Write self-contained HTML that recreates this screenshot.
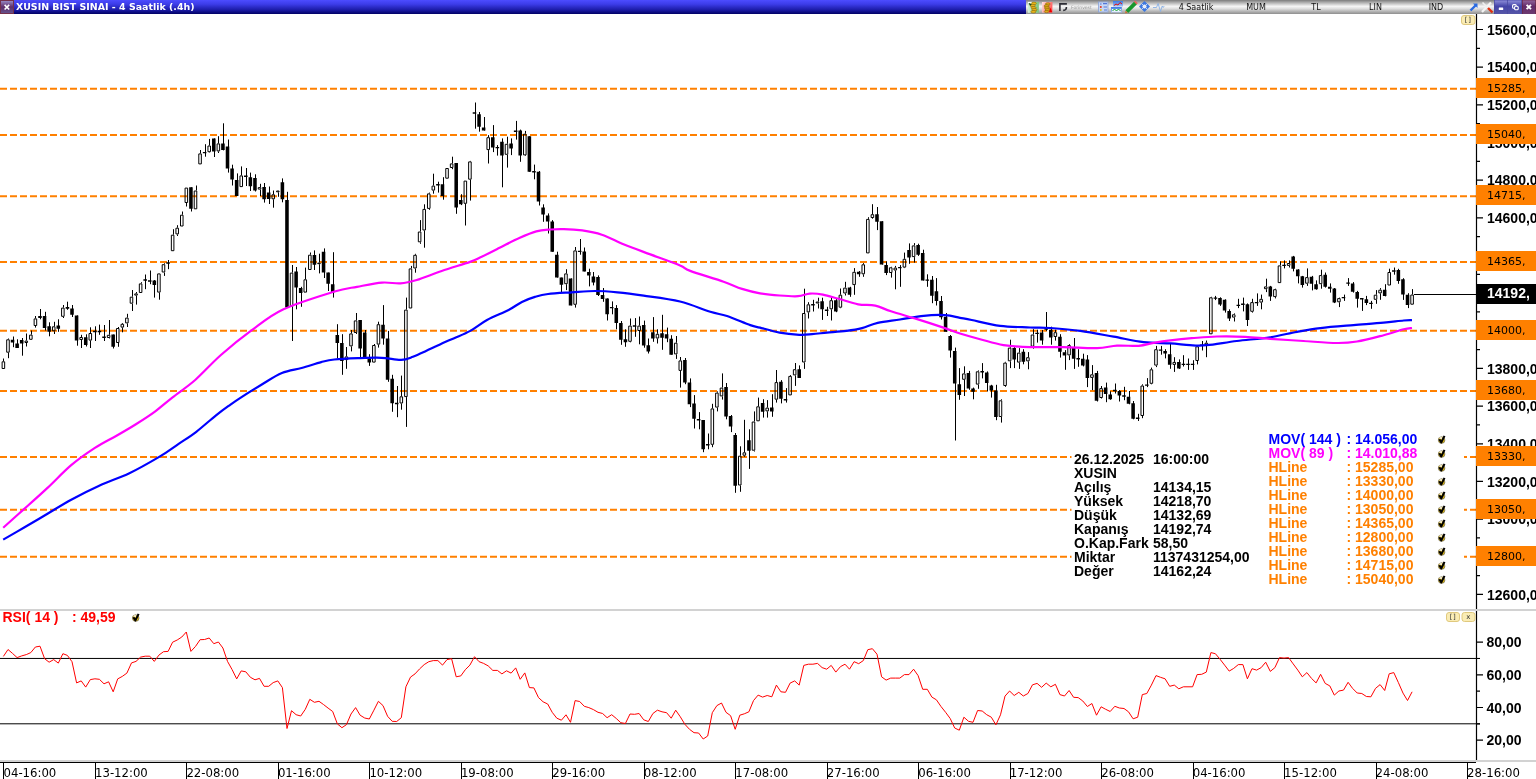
<!DOCTYPE html>
<html><head><meta charset="utf-8"><title>XUSIN BIST SINAI - 4 Saatlik</title>
<style>html,body{margin:0;padding:0;background:#fff;overflow:hidden}svg text{white-space:pre}</style></head>
<body>
<svg width="1536" height="779" viewBox="0 0 1536 779" style="display:block;will-change:transform">
<defs>
<linearGradient id="gb" x1="0" y1="0" x2="0" y2="1"><stop offset="0" stop-color="#4c4cff"/><stop offset="0.3" stop-color="#3c3ce8"/><stop offset="0.7" stop-color="#1c1ca8"/><stop offset="1" stop-color="#000064"/></linearGradient>
<linearGradient id="gg" x1="0" y1="0" x2="0" y2="1"><stop offset="0" stop-color="#7c7c7c"/><stop offset="0.2" stop-color="#b4b4b4"/><stop offset="0.45" stop-color="#f6f6f6"/><stop offset="0.6" stop-color="#e2e2e2"/><stop offset="1" stop-color="#8e8e8e"/></linearGradient>
<linearGradient id="gw" x1="0" y1="0" x2="0" y2="1"><stop offset="0" stop-color="#5a5ab4"/><stop offset="0.08" stop-color="#8484d2"/><stop offset="0.45" stop-color="#4444a8"/><stop offset="1" stop-color="#5656a6"/></linearGradient>
<linearGradient id="gc" x1="0" y1="0" x2="0" y2="1"><stop offset="0" stop-color="#7a3a66"/><stop offset="0.08" stop-color="#8c5c94"/><stop offset="0.45" stop-color="#642a68"/><stop offset="1" stop-color="#6c3a70"/></linearGradient>
<linearGradient id="gc2" x1="0" y1="0" x2="0" y2="1"><stop offset="0" stop-color="#9488c4"/><stop offset="0.25" stop-color="#7a5894"/><stop offset="0.5" stop-color="#5e2e6c"/><stop offset="1" stop-color="#64508a"/></linearGradient>
<linearGradient id="gn" x1="0" y1="0" x2="1" y2="0"><stop offset="0" stop-color="#d8f2d8"/><stop offset="1" stop-color="#78c478"/></linearGradient>
<linearGradient id="gr" x1="0" y1="0" x2="1" y2="0.4"><stop offset="0" stop-color="#ffe4e4"/><stop offset="1" stop-color="#ff5c5c"/></linearGradient>
<linearGradient id="gh" x1="0" y1="0" x2="0" y2="1"><stop offset="0" stop-color="#3c7ae4"/><stop offset="1" stop-color="#a8c4f4"/></linearGradient>
<g id="ck"><circle cx="3.9" cy="5.3" r="3.3" fill="#e4bc10" stroke="#555" stroke-width="0.6"/><ellipse cx="3.2" cy="3.3" rx="1.7" ry="1.1" fill="#fff" opacity="0.8"/><path d="M1.6 4.5L3.6 7.6L6.8 1.1" fill="none" stroke="#000" stroke-width="2.1" stroke-linejoin="round"/></g>
</defs>
<rect width="1536" height="779" fill="#fff"/>
<g stroke="#ff8000" stroke-width="2" stroke-dasharray="7 3" fill="none">
<path d="M0 88.81 H1476"/>
<path d="M0 134.95 H1476"/>
<path d="M0 196.15 H1476"/>
<path d="M0 262.05 H1476"/>
<path d="M0 330.78 H1476"/>
<path d="M0 391.04 H1476"/>
<path d="M0 456.94 H1476"/>
<path d="M0 509.66 H1476"/>
<path d="M0 556.74 H1476"/>
</g>
<rect x="1071.5" y="430" width="392.5" height="160" fill="#fff"/>
<path d="M3.5 358.50V361.30M8.5 338.50V339.30M8.5 352.70V358.20M13.5 336.50V347.20M17.5 339.30V348.00M22.5 338.00V355.70M26.5 333.50V340.60M26.5 343.00V346.50M31.5 330.50V334.60M35.5 316.00V318.40M35.5 326.00V327.60M40.5 309.00V319.30M45.5 311.80V330.50M49.5 322.30V336.30M54.5 321.80V326.30M54.5 331.30V334.00M58.5 319.30V331.80M63.5 305.00V307.60M63.5 316.80V318.00M67.5 301.70V309.80M72.5 305.00V317.00M77.5 315.40V345.70M81.5 334.80V337.00M81.5 340.00V348.00M86.5 334.30V346.50M90.5 327.30V333.00M90.5 340.60V348.00M95.5 326.30V341.00M99.5 324.60V334.80M104.5 325.00V341.00M109.5 320.00V334.80M109.5 338.00V338.50M113.5 334.60V348.50M118.5 327.00V328.00M118.5 343.00V346.80M122.5 323.00V323.80M122.5 327.60V332.30M127.5 313.80V317.60M127.5 323.40V327.00M132.5 290.00V296.70M132.5 303.70V311.00M136.5 292.00V293.40M136.5 295.60V304.60M141.5 282.20V283.40M145.5 274.50V289.20M150.5 270.50V284.20M154.5 280.00V297.60M159.5 292.60V299.70M164.5 263.30V264.20M164.5 272.50V275.90M168.5 260.00V269.20M173.5 229.20V234.70M177.5 225.20V227.70M177.5 234.40V236.00M182.5 211.50V214.70M186.5 203.00V206.50M191.5 187.30V211.50M196.5 185.50V190.50M200.5 150.00V153.40M205.5 144.20V156.70M209.5 138.90V145.50M209.5 152.20V152.60M214.5 138.40V157.00M218.5 136.20V143.40M218.5 151.40V153.00M223.5 123.30V150.40M228.5 139.50V172.60M232.5 164.70V185.50M237.5 173.40V196.00M241.5 166.40V175.40M246.5 168.00V186.00M250.5 172.60V191.00M255.5 174.30V191.50M260.5 183.80V187.10M260.5 189.60V196.00M264.5 183.00V202.60M269.5 186.50V204.00M273.5 190.50V194.30M273.5 199.30V207.70M278.5 192.30V196.80M282.5 178.40V202.30M287.5 191.80V307.60M292.5 265.00V272.60M292.5 306.80V341.00M296.5 267.00V309.30M301.5 286.80V306.80M305.5 267.60V279.30M310.5 252.50V254.70M314.5 250.40V270.00M319.5 253.70V262.60M319.5 264.20V273.40M324.5 248.40V278.00M328.5 272.60V291.00M333.5 252.20V297.60M337.5 324.20V358.40M342.5 334.20V374.80M346.5 347.00V356.40M346.5 360.10V368.80M351.5 330.00V333.40M351.5 346.40V351.40M356.5 313.00V320.40M356.5 333.00V334.00M360.5 320.00V358.40M365.5 330.00V358.90M369.5 354.20V365.90M374.5 344.00V345.00M378.5 321.70V324.20M378.5 344.60V347.60M383.5 305.10V344.70M388.5 330.90V381.80M392.5 374.80V411.80M397.5 386.00V417.20M401.5 375.60V396.30M401.5 403.50V409.70M406.5 297.60V309.60M406.5 397.10V426.90M411.5 265.90V268.40M415.5 253.80V254.80M415.5 268.50V272.70M420.5 220.10V231.50M420.5 242.30V243.80M424.5 204.30V208.90M424.5 230.50V247.70M429.5 192.60V193.40M429.5 208.90V209.80M433.5 173.70V185.60M433.5 190.60V193.70M438.5 181.70V192.60M443.5 177.20V199.70M452.5 156.70V163.40M452.5 168.00V169.20M456.5 163.00V213.80M461.5 194.20V205.10M465.5 203.80V225.50M470.5 160.90V161.40M470.5 179.70V200.60M475.5 102.50V128.70M479.5 112.00V131.70M484.5 117.00V130.60M488.5 135.10V137.20M488.5 150.10V163.50M493.5 125.10V152.10M497.5 145.10V155.60M502.5 138.40V187.30M507.5 136.70V143.80M507.5 154.80V167.60M511.5 138.40V155.10M516.5 120.90V139.60M520.5 129.60V161.80M525.5 130.90V133.70M525.5 155.40V156.00M529.5 136.20V171.80M534.5 164.60V179.30M539.5 171.00V205.50M543.5 204.30V221.80M548.5 213.40V233.50M552.5 220.10V251.80M557.5 251.70V277.60M561.5 277.60V292.60M566.5 269.20V273.40M566.5 284.20V290.10M571.5 278.40V305.40M575.5 247.00V250.40M575.5 304.80V307.60M580.5 239.00V254.70M584.5 247.50V271.40M589.5 268.70V286.40M593.5 272.00V285.40M598.5 275.40V296.00M603.5 288.00V301.80M607.5 298.40V320.50M612.5 301.40V314.30M616.5 305.10V329.30M621.5 321.00V344.80M625.5 329.30V346.80M630.5 318.50V325.60M630.5 341.80V342.30M635.5 318.10V336.80M639.5 316.50V325.60M639.5 331.00V344.30M644.5 320.60V347.70M648.5 338.50V353.50M653.5 317.10V341.80M657.5 329.30V333.80M657.5 338.50V343.50M662.5 314.80V349.80M667.5 327.60V342.20M671.5 335.20V354.70M676.5 336.00V342.70M676.5 354.40V358.90M680.5 357.00V360.40M680.5 370.90V387.60M685.5 358.00V384.20M690.5 378.40V407.10M694.5 395.10V428.50M699.5 412.10V429.30M703.5 420.10V452.20M708.5 433.50V449.30M712.5 403.80V408.40M712.5 444.80V447.20M717.5 391.40V392.60M717.5 407.60V411.40M722.5 373.40V387.60M722.5 396.40V399.60M726.5 383.00V419.30M731.5 415.00V432.10M735.5 433.00V492.80M740.5 446.30V455.70M740.5 485.50V491.80M744.5 419.80V452.30M744.5 455.70V456.80M749.5 429.30V468.90M754.5 411.40V421.50M754.5 450.70V451.50M758.5 397.60V406.30M763.5 399.20V417.60M767.5 400.10V407.60M767.5 411.40V417.60M772.5 394.20V416.80M776.5 370.00V382.10M776.5 399.70V402.60M781.5 380.10V403.40M786.5 388.10V402.60M790.5 375.00V375.90M795.5 363.00V369.20M795.5 375.40V385.90M799.5 365.40V378.00M804.5 288.70V313.00M804.5 362.50V368.90M808.5 302.20V304.30M808.5 312.40V318.50M813.5 299.80V311.50M818.5 297.70V301.50M818.5 303.50V308.50M822.5 297.70V319.90M827.5 306.80V316.00M831.5 296.80V300.20M831.5 309.30V320.50M836.5 298.50V312.20M840.5 288.50V294.70M840.5 307.70V308.20M845.5 281.80V287.60M845.5 293.50V295.50M850.5 286.80V296.80M854.5 268.10V271.80M854.5 285.10V294.80M859.5 271.00V276.80M863.5 263.10V264.30M863.5 274.30V276.80M868.5 217.20V218.90M872.5 204.20V214.20M872.5 218.00V218.70M877.5 207.00V230.10M882.5 221.20V264.60M886.5 261.40V275.10M891.5 266.80V267.30M891.5 273.00V277.60M895.5 265.90V267.60M895.5 270.50V289.30M900.5 265.10V286.80M904.5 252.60V258.80M904.5 267.60V268.10M909.5 243.40V263.80M914.5 243.10V245.40M914.5 257.10V262.60M918.5 243.70V255.90M923.5 249.70V280.50M927.5 274.30V286.80M932.5 276.00V303.20M936.5 278.10V305.50M941.5 296.00V319.50M946.5 313.00V331.70M950.5 335.00V357.60M955.5 347.60V440.50M959.5 368.10V399.80M964.5 366.30V373.40M964.5 379.80V396.00M969.5 370.90V389.80M973.5 387.60V399.30M978.5 370.40V371.30M978.5 384.60V388.80M982.5 363.10V378.40M987.5 371.40V391.50M991.5 384.80V397.60M996.5 384.80V420.20M1001.5 399.30V400.30M1001.5 417.00V422.60M1005.5 361.80V362.60M1005.5 386.00V386.80M1010.5 339.70V347.60M1010.5 361.30V368.10M1014.5 347.10V368.10M1019.5 348.10V352.60M1019.5 362.60V368.90M1023.5 349.20V364.30M1028.5 352.10V357.20M1028.5 361.40V369.30M1033.5 329.20V334.50M1033.5 346.70V348.70M1037.5 329.70V342.60M1042.5 330.00V344.70M1046.5 312.00V330.90M1051.5 326.70V344.70M1055.5 329.70V332.20M1055.5 337.00V340.60M1060.5 334.20V357.60M1065.5 350.10V369.80M1069.5 344.20V345.10M1069.5 355.40V360.10M1074.5 338.00V368.90M1078.5 349.20V366.80M1083.5 353.70V366.40M1087.5 355.10V387.10M1092.5 365.10V374.30M1092.5 377.90V390.10M1097.5 370.90V401.50M1101.5 386.00V388.10M1101.5 398.00V398.50M1106.5 382.60V402.20M1110.5 391.30V399.80M1115.5 383.50V393.50M1119.5 390.10V401.50M1124.5 386.80V400.20M1129.5 391.00V404.30M1133.5 401.00V419.30M1138.5 413.80V421.00M1142.5 384.30V385.50M1142.5 416.00V418.20M1147.5 378.10V387.10M1151.5 367.60V369.30M1151.5 383.80V384.30M1156.5 345.90V349.20M1156.5 365.60V367.10M1161.5 345.90V354.70M1165.5 349.20V358.40M1170.5 343.10V368.80M1174.5 357.20V361.90M1174.5 364.90V371.90M1179.5 359.40V368.90M1183.5 355.20V366.50M1188.5 358.50V369.90M1193.5 360.20V369.90M1197.5 345.20V346.30M1197.5 361.00V364.40M1202.5 341.00V350.50M1206.5 340.50V342.70M1206.5 345.20V357.20M1211.5 296.80V297.30M1215.5 295.90V300.10M1220.5 297.30V305.90M1225.5 299.30V312.60M1229.5 309.30V321.00M1234.5 313.40V314.30M1234.5 317.60V321.50M1238.5 298.80V308.10M1243.5 297.60V311.40M1247.5 303.40V326.00M1252.5 298.80V302.10M1252.5 311.80V312.60M1257.5 293.40V305.90M1261.5 294.60V298.80M1261.5 302.60V309.30M1266.5 278.70V286.40M1266.5 289.20V292.10M1270.5 285.90V300.90M1275.5 288.70V289.20M1275.5 297.10V298.40M1280.5 261.40V265.40M1284.5 260.40V268.40M1289.5 260.40V263.00M1289.5 265.90V267.50M1293.5 255.90V271.40M1298.5 269.20V283.40M1302.5 275.90V287.60M1307.5 268.40V277.10M1307.5 283.70V285.90M1312.5 275.90V290.40M1316.5 280.40V289.70M1321.5 269.70V275.10M1321.5 284.20V288.70M1325.5 272.50V287.60M1330.5 283.40V292.60M1334.5 288.00V303.10M1339.5 297.60V298.10M1339.5 302.30V307.10M1344.5 294.60V300.90M1348.5 278.10V285.90M1353.5 282.10V292.60M1357.5 290.90V307.60M1362.5 298.40V310.90M1366.5 295.90V305.10M1371.5 300.90V308.80M1376.5 290.10V294.70M1376.5 299.80V303.80M1380.5 288.10V289.70M1380.5 293.40V299.80M1385.5 284.20V296.40M1389.5 268.70V272.00M1394.5 267.50V274.70M1398.5 268.80V283.80M1403.5 278.20V299.90M1408.5 293.20V308.10M1412.5 289.10V294.50" stroke="#000" stroke-width="1" fill="none"/>
<path d="M10.77 339.80H14.32V342.60H10.77ZM15.35 343.50H18.90V348.00H15.35ZM19.92 340.10H23.47V343.50H19.92ZM38.21 316.00H41.76V318.00H38.21ZM42.79 316.00H46.34V328.00H42.79ZM47.36 326.30H50.91V331.80H47.36ZM56.51 325.50H60.06V328.80H56.51ZM65.66 307.00H69.21V308.80H65.66ZM70.23 308.40H73.78V314.80H70.23ZM74.80 315.40H78.35V340.50H74.80ZM83.95 337.30H87.50V345.00H83.95ZM111.39 334.60H114.94V346.80H111.39ZM152.56 280.40H156.11V285.00H152.56ZM189.15 187.30H192.70V208.80H189.15ZM212.02 138.40H215.57V151.40H212.02ZM221.16 143.40H224.71V150.00H221.16ZM225.74 146.40H229.29V168.40H225.74ZM230.31 168.40H233.86V179.60H230.31ZM234.88 180.10H238.43V196.00H234.88ZM248.60 177.30H252.15V186.30H248.60ZM253.18 178.10H256.73V190.50H253.18ZM262.33 187.10H265.88V199.30H262.33ZM266.90 192.60H270.45V199.00H266.90ZM280.62 182.30H284.17V199.30H280.62ZM285.19 200.10H288.74V307.60H285.19ZM294.34 271.40H297.89V287.60H294.34ZM298.92 288.10H302.47V293.10H298.92ZM312.64 255.00H316.19V264.70H312.64ZM321.78 251.70H325.33V272.60H321.78ZM326.36 272.60H329.91V283.80H326.36ZM330.93 284.30H334.48V292.60H330.93ZM335.51 335.00H339.06V342.90H335.51ZM340.08 342.90H343.63V360.90H340.08ZM358.37 320.00H361.92V348.40H358.37ZM362.95 332.50H366.50V358.90H362.95ZM367.52 358.40H371.07V362.60H367.52ZM381.24 324.70H384.79V338.40H381.24ZM385.82 338.40H389.37V379.80H385.82ZM390.39 378.80H393.94V403.20H390.39ZM440.70 184.20H444.25V195.90H440.70ZM454.42 163.00H457.97V207.60H454.42ZM458.99 200.10H462.54V204.30H458.99ZM477.29 114.20H480.84V126.70H477.29ZM481.86 127.60H485.41V130.60H481.86ZM491.01 137.20H494.56V147.60H491.01ZM500.16 141.80H503.71V155.40H500.16ZM509.31 143.40H512.86V148.40H509.31ZM518.45 130.40H522.00V155.40H518.45ZM527.60 136.20H531.15V171.80H527.60ZM536.75 171.80H540.30V201.50H536.75ZM541.32 207.60H544.87V214.60H541.32ZM545.90 215.40H549.45V221.50H545.90ZM550.47 221.50H554.02V251.80H550.47ZM555.04 254.70H558.59V277.60H555.04ZM559.62 277.60H563.17V284.70H559.62ZM568.76 278.40H572.31V305.40H568.76ZM582.48 251.40H586.03V271.40H582.48ZM587.06 272.00H590.61V275.60H587.06ZM591.63 276.40H595.18V282.60H591.63ZM596.21 277.00H599.76V295.10H596.21ZM600.78 295.10H604.33V298.90H600.78ZM605.35 298.40H608.90V314.30H605.35ZM614.50 308.10H618.05V323.00H614.50ZM619.07 323.00H622.62V339.80H619.07ZM623.65 339.30H627.20V342.30H623.65ZM641.94 325.10H645.49V345.50H641.94ZM646.52 345.20H650.07V351.50H646.52ZM651.09 332.30H654.64V338.50H651.09ZM660.24 333.20H663.79V337.70H660.24ZM664.81 334.30H668.36V338.50H664.81ZM669.39 338.80H672.94V354.70H669.39ZM683.11 360.00H686.66V382.60H683.11ZM687.68 382.60H691.23V404.30H687.68ZM692.25 403.40H695.80V418.80H692.25ZM701.40 420.10H704.95V449.30H701.40ZM724.27 387.10H727.82V416.40H724.27ZM728.84 415.90H732.39V426.50H728.84ZM733.42 435.10H736.97V485.70H733.42ZM747.14 440.20H750.69V450.70H747.14ZM760.86 403.10H764.41V411.80H760.86ZM770.01 407.60H773.56V411.40H770.01ZM779.15 381.70H782.70V398.70H779.15ZM797.45 369.20H801.00V378.00H797.45ZM820.32 301.30H823.87V309.30H820.32ZM834.04 300.20H837.59V311.50H834.04ZM847.76 287.60H851.31V294.80H847.76ZM856.91 271.80H860.46V274.30H856.91ZM875.20 214.20H878.75V221.70H875.20ZM879.78 221.20H883.33V264.60H879.78ZM884.35 265.10H887.90V273.00H884.35ZM907.22 250.10H910.77V257.60H907.22ZM916.36 245.10H919.91V254.80H916.36ZM920.94 253.10H924.49V280.50H920.94ZM930.09 279.80H933.64V295.70H930.09ZM934.66 291.30H938.21V301.00H934.66ZM939.23 301.00H942.78V317.20H939.23ZM943.81 316.80H947.36V331.70H943.81ZM948.38 335.90H951.93V350.60H948.38ZM952.95 350.90H956.50V383.50H952.95ZM957.53 384.30H961.08V395.10H957.53ZM966.68 373.10H970.23V388.50H966.68ZM971.25 388.50H974.80V391.80H971.25ZM984.97 372.60H988.52V383.10H984.97ZM989.54 385.50H993.09V390.60H989.54ZM994.12 390.60H997.67V417.00H994.12ZM1012.41 348.10H1015.96V359.60H1012.41ZM1021.56 351.70H1025.11V361.80H1021.56ZM1039.85 332.50H1043.40V340.40H1039.85ZM1044.43 327.50H1047.98V329.70H1044.43ZM1049.00 329.70H1052.55V337.50H1049.00ZM1058.15 336.70H1061.70V351.70H1058.15ZM1062.72 352.20H1066.27V355.40H1062.72ZM1071.87 347.10H1075.42V358.70H1071.87ZM1081.02 358.70H1084.57V365.60H1081.02ZM1085.59 359.60H1089.14V377.90H1085.59ZM1094.74 372.90H1098.29V400.70H1094.74ZM1103.89 387.60H1107.44V394.00H1103.89ZM1108.46 394.60H1112.01V399.30H1108.46ZM1117.61 391.00H1121.16V395.60H1117.61ZM1126.76 396.80H1130.31V403.80H1126.76ZM1131.33 403.20H1134.88V418.80H1131.33ZM1163.34 350.90H1166.89V353.40H1163.34ZM1167.92 354.20H1171.47V364.80H1167.92ZM1177.07 361.90H1180.62V368.50H1177.07ZM1218.23 298.10H1221.78V304.60H1218.23ZM1222.80 299.80H1226.35V310.40H1222.80ZM1227.38 310.90H1230.93V318.50H1227.38ZM1245.67 304.30H1249.22V320.10H1245.67ZM1268.54 286.40H1272.09V296.40H1268.54ZM1291.41 256.40H1294.96V268.70H1291.41ZM1295.98 269.50H1299.53V276.20H1295.98ZM1300.56 276.20H1304.11V285.10H1300.56ZM1309.70 276.70H1313.25V283.70H1309.70ZM1314.28 284.20H1317.83V289.20H1314.28ZM1323.42 274.70H1326.97V286.70H1323.42ZM1328.00 286.70H1331.55V288.70H1328.00ZM1332.57 288.40H1336.12V302.60H1332.57ZM1350.87 283.40H1354.42V291.70H1350.87ZM1355.44 292.10H1358.99V298.80H1355.44ZM1364.59 299.30H1368.14V302.90H1364.59ZM1382.88 289.70H1386.43V295.90H1382.88ZM1396.60 270.10H1400.15V281.00H1396.60ZM1401.18 279.20H1404.73V294.50H1401.18ZM1405.75 294.80H1409.30V305.00H1405.75Z" fill="#000"/>
<path d="M2.12 361.80H4.67V368.50H2.12ZM6.70 339.80H9.25V352.20H6.70ZM24.99 341.10H27.54V342.50H24.99ZM29.57 335.10H32.12V339.30H29.57ZM34.14 318.90H36.69V325.50H34.14ZM52.44 326.80H54.99V330.80H52.44ZM61.58 308.10H64.13V316.30H61.58ZM79.88 337.50H82.43V339.50H79.88ZM89.03 333.50H91.58V340.10H89.03ZM107.32 335.30H109.87V337.50H107.32ZM116.47 328.50H119.02V342.50H116.47ZM121.04 324.30H123.59V327.10H121.04ZM125.61 318.10H128.16V322.90H125.61ZM130.19 297.20H132.74V303.20H130.19ZM134.76 293.90H137.31V295.10H134.76ZM139.34 283.90H141.89V292.50H139.34ZM157.63 273.90H160.18V292.10H157.63ZM162.20 264.70H164.75V272.00H162.20ZM171.35 235.20H173.90V250.70H171.35ZM175.93 228.20H178.48V233.90H175.93ZM180.50 215.20H183.05V226.00H180.50ZM185.07 188.10H187.62V202.50H185.07ZM194.22 191.00H196.77V208.80H194.22ZM198.79 153.90H201.34V163.90H198.79ZM207.94 146.00H210.49V151.70H207.94ZM217.09 143.90H219.64V150.90H217.09ZM239.96 175.90H242.51V186.60H239.96ZM258.25 187.60H260.80V189.10H258.25ZM271.97 194.80H274.52V198.80H271.97ZM276.55 191.00H279.10V191.80H276.55ZM290.27 273.10H292.82V306.30H290.27ZM303.99 279.80H306.54V292.10H303.99ZM308.56 255.20H311.11V269.50H308.56ZM317.71 263.10H320.26V263.70H317.71ZM345.15 356.90H347.70V359.60H345.15ZM349.73 333.90H352.28V345.90H349.73ZM354.30 320.90H356.85V332.50H354.30ZM372.59 345.50H375.14V362.10H372.59ZM377.17 324.70H379.72V344.10H377.17ZM400.04 396.80H402.59V403.00H400.04ZM404.61 310.10H407.16V396.60H404.61ZM409.18 268.90H411.73V308.00H409.18ZM413.76 255.30H416.31V268.00H413.76ZM418.33 232.00H420.88V241.80H418.33ZM422.91 209.40H425.46V230.00H422.91ZM427.48 193.90H430.03V208.40H427.48ZM432.05 186.10H434.60V190.10H432.05ZM445.77 168.50H448.32V178.20H445.77ZM450.35 163.90H452.90V167.50H450.35ZM464.07 181.10H466.62V203.30H464.07ZM468.64 161.90H471.19V179.20H468.64ZM486.94 137.70H489.49V149.60H486.94ZM505.23 144.30H507.78V154.30H505.23ZM523.53 134.20H526.08V154.90H523.53ZM564.69 273.90H567.24V283.70H564.69ZM573.84 250.90H576.39V304.30H573.84ZM628.72 326.10H631.27V341.30H628.72ZM637.87 326.10H640.42V330.50H637.87ZM656.16 334.30H658.71V338.00H656.16ZM674.46 343.20H677.01V353.90H674.46ZM679.03 360.90H681.58V370.40H679.03ZM711.05 408.90H713.60V444.30H711.05ZM715.62 393.10H718.17V407.10H715.62ZM720.20 388.10H722.75V395.90H720.20ZM738.49 456.20H741.04V485.00H738.49ZM743.06 452.80H745.61V455.20H743.06ZM752.21 422.00H754.76V450.20H752.21ZM756.79 406.80H759.34V420.80H756.79ZM765.93 408.10H768.48V410.90H765.93ZM775.08 382.60H777.63V399.20H775.08ZM788.80 376.40H791.35V394.90H788.80ZM793.38 369.70H795.93V374.90H793.38ZM802.52 313.50H805.07V362.00H802.52ZM807.10 304.80H809.65V311.90H807.10ZM816.24 302.00H818.79V303.00H816.24ZM829.96 300.70H832.51V308.80H829.96ZM839.11 295.20H841.66V307.20H839.11ZM843.69 288.10H846.24V293.00H843.69ZM852.83 272.30H855.38V284.60H852.83ZM861.98 264.80H864.53V273.80H861.98ZM866.55 219.40H869.10V252.90H866.55ZM871.13 214.70H873.68V217.50H871.13ZM889.42 267.80H891.97V272.50H889.42ZM894.00 268.10H896.55V270.00H894.00ZM903.14 259.30H905.69V267.10H903.14ZM912.29 245.90H914.84V256.60H912.29ZM962.60 373.90H965.15V379.30H962.60ZM976.32 371.80H978.87V384.10H976.32ZM999.19 400.80H1001.74V416.50H999.19ZM1003.77 363.10H1006.32V385.50H1003.77ZM1008.34 348.10H1010.89V360.80H1008.34ZM1017.49 353.10H1020.04V362.10H1017.49ZM1026.63 357.70H1029.18V360.90H1026.63ZM1031.21 335.00H1033.76V346.20H1031.21ZM1054.08 332.70H1056.63V336.50H1054.08ZM1067.80 345.60H1070.35V354.90H1067.80ZM1090.67 374.80H1093.22V377.40H1090.67ZM1099.81 388.60H1102.36V397.50H1099.81ZM1140.98 386.00H1143.53V415.50H1140.98ZM1150.12 369.80H1152.67V383.30H1150.12ZM1154.70 349.70H1157.25V365.10H1154.70ZM1172.99 362.40H1175.54V364.40H1172.99ZM1195.86 346.80H1198.41V360.50H1195.86ZM1205.01 343.20H1207.56V344.70H1205.01ZM1209.58 297.80H1212.13V333.80H1209.58ZM1232.45 314.80H1235.00V317.10H1232.45ZM1250.75 302.60H1253.30V311.30H1250.75ZM1259.89 299.30H1262.44V302.10H1259.89ZM1264.47 286.90H1267.02V288.70H1264.47ZM1273.61 289.70H1276.16V296.60H1273.61ZM1278.19 265.90H1280.74V282.60H1278.19ZM1287.33 263.50H1289.88V265.40H1287.33ZM1305.63 277.60H1308.18V283.20H1305.63ZM1319.35 275.60H1321.90V283.70H1319.35ZM1337.65 298.60H1340.20V301.80H1337.65ZM1374.23 295.20H1376.79V299.30H1374.23ZM1378.81 290.20H1381.36V292.90H1378.81ZM1387.96 272.50H1390.51V285.00H1387.96ZM1410.82 295.00H1413.37V304.20H1410.82Z" fill="none" stroke="#000" stroke-width="1"/>
<path d="M93.10 331.50H96.65M97.67 331.50H101.22M102.25 337.30H105.80M143.41 280.00H146.96M147.98 281.00H151.53M166.28 263.00H169.83M202.87 152.60H206.42M244.03 176.30H247.58M394.96 403.50H398.51M436.13 184.70H439.68M472.72 113.00H476.27M495.58 147.60H499.13M513.88 131.20H517.43M532.17 171.80H535.72M577.91 251.40H581.46M609.93 307.60H613.48M632.80 326.00H636.35M696.83 419.80H700.38M705.97 444.80H709.52M783.73 399.70H787.28M811.17 304.80H814.72M824.89 310.20H828.44M898.07 267.60H901.62M925.51 280.10H929.06M980.40 371.80H983.95M1035.28 333.40H1038.83M1076.44 358.70H1079.99M1113.03 390.50H1116.58M1122.18 396.00H1125.73M1135.90 418.20H1139.45M1145.05 385.10H1148.60M1158.77 350.10H1162.32M1181.64 364.40H1185.19M1186.21 364.40H1189.76M1190.79 364.40H1194.34M1199.93 345.20H1203.48M1213.66 298.10H1217.21M1236.52 305.40H1240.07M1241.10 304.30H1244.65M1254.82 302.60H1258.37M1282.26 265.40H1285.81M1341.72 297.60H1345.27M1346.29 283.10H1349.84M1360.01 298.80H1363.56M1369.16 303.40H1372.71M1392.03 271.00H1395.58" stroke="#000" stroke-width="1.4" fill="none"/>
<path d="M3.2 539.6C6.6 537.6 16.3 532.1 23.7 527.8C31.1 523.5 39.6 518.4 47.5 513.7C55.4 509.0 62.6 504.4 71.2 499.7C79.8 495.0 89.5 490.1 99.2 485.7C108.9 481.3 119.3 478.0 129.4 473.2C139.5 468.4 151.3 461.5 159.6 456.6C167.9 451.7 172.9 447.7 179.0 443.6C185.1 439.5 190.2 436.5 196.3 431.8C202.4 427.1 210.3 419.9 215.7 415.6C221.1 411.3 224.5 408.8 228.6 405.9C232.7 403.0 234.6 401.6 240.0 398.1C245.4 394.6 254.0 389.2 261.0 385.0C268.0 380.8 275.1 375.8 281.9 373.0C288.7 370.2 295.1 369.8 301.6 368.0C308.2 366.2 315.8 363.5 321.2 362.1C326.6 360.7 328.2 360.1 334.3 359.5C340.4 358.9 350.0 358.5 357.9 358.2C365.8 357.9 374.2 357.5 381.4 357.8C388.6 358.1 395.9 360.1 401.1 359.9C406.4 359.7 408.8 358.3 412.9 356.8C417.0 355.3 421.5 353.1 426.0 351.0C430.5 348.9 435.4 346.5 440.0 344.4C444.6 342.3 448.6 340.6 453.6 338.4C458.7 336.1 464.7 334.0 470.3 330.9C475.9 327.8 480.6 323.5 487.0 320.0C493.4 316.5 502.8 313.0 508.6 310.0C514.4 307.0 517.5 304.2 521.9 302.0C526.3 299.8 530.6 298.2 535.0 296.9C539.4 295.6 542.0 294.8 548.1 294.0C554.2 293.2 563.8 292.8 571.7 292.3C579.6 291.8 587.7 291.0 595.3 291.0C602.9 291.0 609.4 291.5 617.5 292.3C625.6 293.1 633.3 294.1 643.7 295.6C654.1 297.1 668.9 298.8 680.0 301.5C691.1 304.2 702.5 309.4 710.3 311.8C718.1 314.2 720.3 313.8 727.0 316.0C733.7 318.2 744.8 323.2 750.3 325.1C755.8 327.0 755.1 326.4 760.0 327.6C764.9 328.9 773.1 331.4 779.6 332.6C786.1 333.8 793.9 334.5 799.3 334.8C804.7 335.1 807.4 334.6 812.0 334.2C816.6 333.8 821.2 333.2 826.9 332.6C832.6 332.1 840.5 331.6 846.4 330.9C852.2 330.1 856.8 329.4 862.0 328.1C867.2 326.8 871.4 324.3 877.7 322.9C884.0 321.5 892.3 320.7 900.0 319.5C907.7 318.3 917.1 316.6 923.7 315.8C930.3 315.0 935.0 314.9 939.4 314.9C943.8 314.9 946.5 315.1 949.9 315.6C953.3 316.1 956.4 317.1 960.0 317.8C963.6 318.5 965.0 318.6 971.7 320.0C978.4 321.4 990.4 324.6 1000.1 325.9C1009.9 327.1 1021.9 327.1 1030.2 327.5C1038.5 327.9 1041.9 327.4 1050.2 328.0C1058.5 328.6 1069.7 329.4 1080.3 330.9C1090.9 332.3 1103.0 334.8 1113.6 336.7C1124.2 338.6 1134.2 341.0 1143.7 342.1C1153.2 343.2 1162.7 342.9 1170.4 343.4C1178.1 343.9 1184.0 344.9 1190.0 345.2C1196.0 345.5 1198.9 345.9 1206.7 345.2C1214.5 344.5 1226.2 342.3 1236.8 341.0C1247.4 339.7 1260.2 338.8 1270.2 337.3C1280.2 335.8 1288.6 333.3 1296.9 331.8C1305.2 330.3 1310.8 329.2 1320.3 328.1C1329.8 327.0 1343.0 326.0 1353.6 325.1C1364.2 324.2 1375.3 323.4 1383.7 322.6C1392.1 321.8 1399.0 320.9 1403.7 320.5C1408.4 320.1 1410.6 320.2 1412.0 320.1" stroke="#0000ff" stroke-width="2.2" fill="none" stroke-linejoin="round"/>
<path d="M3.2 527.8C6.6 524.7 16.3 516.0 23.7 509.4C31.1 502.8 39.6 495.3 47.5 487.9C55.4 480.5 63.3 471.9 71.2 465.2C79.1 458.5 87.4 452.8 94.9 447.9C102.5 443.0 109.7 439.6 116.5 435.7C123.3 431.8 129.4 428.3 135.9 424.2C142.4 420.1 149.2 415.8 155.3 411.3C161.4 406.8 165.9 402.5 172.6 397.3C179.2 392.1 187.1 387.1 195.2 380.0C203.2 372.9 211.5 363.3 220.9 355.0C230.3 346.7 241.4 337.8 251.8 330.2C262.2 322.6 269.9 315.7 283.5 309.3C297.1 302.9 321.4 295.6 333.6 291.8C345.9 288.1 348.9 288.3 357.0 286.8C365.1 285.3 374.8 283.2 382.0 282.6C389.2 282.0 394.6 283.8 400.4 283.4C406.2 283.0 409.8 282.1 416.7 280.0C423.6 277.9 432.8 274.0 441.7 271.0C450.6 268.0 463.7 264.1 470.1 261.9C476.5 259.7 475.1 260.0 480.0 257.6C484.9 255.3 493.1 251.1 499.6 247.8C506.2 244.5 513.2 240.7 519.3 238.0C525.4 235.3 531.1 232.8 536.3 231.4C541.5 230.0 546.1 229.9 550.7 229.5C555.3 229.1 558.5 228.9 563.8 229.1C569.0 229.2 575.9 229.5 582.2 230.4C588.5 231.3 594.8 232.3 601.8 234.7C608.8 237.0 616.0 241.2 624.1 244.5C632.2 247.8 641.0 250.9 650.3 254.4C659.6 257.9 673.4 262.8 680.0 265.5C686.6 268.2 682.9 268.2 690.2 270.9C697.5 273.6 715.0 278.7 723.6 281.7C732.2 284.7 735.9 287.0 742.0 288.9C748.1 290.8 753.7 292.2 760.0 293.3C766.3 294.4 773.3 295.0 779.6 295.5C785.9 296.0 793.0 296.5 798.0 296.2C803.0 295.9 805.6 293.9 809.8 293.6C813.9 293.3 818.1 293.7 822.9 294.6C827.7 295.5 832.7 297.2 838.6 298.8C844.5 300.4 852.1 303.2 858.2 304.3C864.3 305.4 869.8 304.4 875.3 305.6C880.8 306.8 884.0 309.1 891.0 311.3C898.0 313.6 908.5 316.4 917.2 319.1C925.9 321.8 936.3 325.2 943.4 327.6C950.5 330.0 953.9 331.6 960.0 333.5C966.1 335.4 972.9 337.3 980.1 339.2C987.4 341.1 995.1 343.8 1003.5 345.1C1011.9 346.4 1020.2 346.8 1030.2 347.1C1040.2 347.4 1052.5 346.9 1063.6 347.1C1074.7 347.3 1088.1 348.4 1097.0 348.1C1105.9 347.9 1110.0 346.0 1117.0 345.6C1124.0 345.2 1132.6 346.3 1138.7 345.9C1144.8 345.4 1148.4 343.8 1153.7 342.9C1159.0 342.0 1164.1 341.2 1170.4 340.4C1176.7 339.6 1184.0 338.8 1191.7 338.2C1199.4 337.6 1207.8 336.7 1216.7 336.5C1225.6 336.3 1236.2 336.4 1245.1 336.8C1254.0 337.2 1260.5 338.1 1270.2 338.8C1280.0 339.5 1292.5 340.3 1303.6 341.0C1314.7 341.7 1328.1 342.9 1337.0 343.0C1345.9 343.1 1349.2 342.8 1357.0 341.5C1364.8 340.2 1375.9 337.2 1383.7 335.2C1391.5 333.2 1399.0 330.5 1403.7 329.3C1408.4 328.1 1410.6 328.2 1412.0 328.0" stroke="#ff00ff" stroke-width="2.2" fill="none" stroke-linejoin="round"/>
<path d="M1414 294.5H1477" stroke="#000" stroke-width="1"/>
<path d="M1476.5 14V760" stroke="#000" stroke-width="1.2"/>
<path d="M1477 594.4h6M1477 575.6h3M1477 556.7h6M1477 537.9h3M1477 519.1h6M1477 500.2h3M1477 481.4h6M1477 462.6h3M1477 443.8h6M1477 424.9h3M1477 406.1h6M1477 387.3h3M1477 368.4h6M1477 349.6h3M1477 330.8h6M1477 311.9h3M1477 293.1h6M1477 274.3h3M1477 255.5h6M1477 236.6h3M1477 217.8h6M1477 199.0h3M1477 180.1h6M1477 161.3h3M1477 142.5h6M1477 123.6h3M1477 104.8h6M1477 86.0h3M1477 67.2h6M1477 48.3h3M1477 29.5h6" stroke="#000" stroke-width="1.2"/>
<g font-family="'Liberation Sans',sans-serif" font-weight="bold" font-size="14px" fill="#000">
<text x="1487" y="599.6">12600,00</text>
<text x="1487" y="561.9">12800,00</text>
<text x="1487" y="524.3">13000,00</text>
<text x="1487" y="486.6">13200,00</text>
<text x="1487" y="449.0">13400,00</text>
<text x="1487" y="411.3">13600,00</text>
<text x="1487" y="373.6">13800,00</text>
<text x="1487" y="336.0">14000,00</text>
<text x="1487" y="298.3">14200,00</text>
<text x="1487" y="260.7">14400,00</text>
<text x="1487" y="223.0">14600,00</text>
<text x="1487" y="185.3">14800,00</text>
<text x="1487" y="147.7">15000,00</text>
<text x="1487" y="110.0">15200,00</text>
<text x="1487" y="72.4">15400,00</text>
<text x="1487" y="34.7">15600,00</text>
</g>
<rect x="1476" y="78.0" width="60" height="20" fill="#ff8000"/>
<rect x="1476" y="124.0" width="60" height="20" fill="#ff8000"/>
<rect x="1476" y="185.0" width="60" height="20" fill="#ff8000"/>
<rect x="1476" y="251.0" width="60" height="20" fill="#ff8000"/>
<rect x="1476" y="320.0" width="60" height="20" fill="#ff8000"/>
<rect x="1476" y="380.0" width="60" height="20" fill="#ff8000"/>
<rect x="1476" y="446.0" width="60" height="20" fill="#ff8000"/>
<rect x="1476" y="499.0" width="60" height="20" fill="#ff8000"/>
<rect x="1476" y="546.0" width="60" height="20" fill="#ff8000"/>
<g font-family="'DejaVu Sans',sans-serif" font-size="11px" fill="#000">
<text x="1487" y="92.0">15285,</text>
<text x="1487" y="138.0">15040,</text>
<text x="1487" y="199.0">14715,</text>
<text x="1487" y="265.0">14365,</text>
<text x="1487" y="334.0">14000,</text>
<text x="1487" y="394.0">13680,</text>
<text x="1487" y="460.0">13330,</text>
<text x="1487" y="513.0">13050,</text>
<text x="1487" y="560.0">12800,</text>
</g>
<rect x="1477" y="284" width="59" height="20" fill="#000"/>
<text x="1487" y="298" font-family="'Liberation Sans',sans-serif" font-weight="bold" font-size="14px" fill="#fff">14192,</text>
<rect x="0" y="609" width="1536" height="2" fill="#d2d2d2"/>
<path d="M0 658.45H1480M0 723.8H1480" stroke="#000" stroke-width="1"/>
<polyline points="3.4,656.4 8.0,649.5 12.5,653.4 17.1,657.6 21.7,655.9 26.3,654.6 30.8,652.6 35.4,647.0 40.0,646.2 44.6,658.7 49.1,662.2 53.7,659.6 58.3,663.1 62.9,653.7 67.4,655.4 72.0,661.7 76.6,682.9 81.2,680.9 85.7,687.1 90.3,679.6 94.9,678.8 99.4,679.3 104.0,683.8 108.6,681.8 113.2,691.8 117.7,678.9 122.3,676.4 126.9,673.1 131.5,662.9 136.0,661.4 140.6,657.1 145.2,656.2 149.8,656.2 154.3,661.4 158.9,655.1 163.5,651.7 168.1,651.4 172.6,642.2 177.2,640.0 181.8,637.0 186.3,632.0 190.9,651.4 195.5,646.4 200.1,639.7 204.6,639.5 209.2,638.0 213.8,643.7 218.4,642.0 222.9,648.0 227.5,661.4 232.1,669.6 236.7,678.9 241.2,670.9 245.8,671.8 250.4,677.3 255.0,679.8 259.5,678.4 264.1,686.3 268.7,686.3 273.2,682.6 277.8,680.9 282.4,687.6 287.0,728.5 291.5,710.7 296.1,714.7 300.7,716.0 305.3,709.3 309.8,699.3 314.4,702.3 319.0,701.3 323.6,704.6 328.1,708.1 332.7,711.5 337.3,723.8 341.9,727.7 346.4,724.7 351.0,714.0 355.6,707.6 360.1,715.2 364.7,718.0 369.3,719.0 373.9,710.2 378.4,701.3 383.0,705.6 387.6,716.3 392.2,721.3 396.7,721.5 401.3,717.7 405.9,686.8 410.5,677.1 415.0,673.9 419.6,668.9 424.2,664.6 428.8,661.7 433.3,660.6 437.9,660.6 442.5,665.1 447.0,659.6 451.6,658.7 456.2,676.8 460.8,675.9 465.3,669.7 469.9,665.1 474.5,656.7 479.1,661.7 483.6,663.4 488.2,665.9 492.8,670.4 497.4,670.4 501.9,673.9 506.5,670.8 511.1,673.1 515.7,667.9 520.2,679.3 524.8,672.9 529.4,687.6 533.9,687.9 538.5,697.6 543.1,701.8 547.7,704.0 552.2,712.3 556.8,718.2 561.4,720.2 566.0,714.8 570.5,722.3 575.1,700.6 579.7,701.5 584.3,706.3 588.8,707.6 593.4,709.6 598.0,712.3 602.6,713.5 607.1,717.7 611.7,714.7 616.3,718.5 620.8,722.7 625.4,723.5 630.0,714.0 634.6,714.3 639.1,713.5 643.7,719.8 648.3,721.5 652.9,713.5 657.4,710.2 662.0,711.8 666.6,712.7 671.2,718.2 675.7,710.2 680.3,716.8 684.9,724.3 689.5,729.3 694.0,732.7 698.6,733.0 703.2,739.0 707.7,736.0 712.3,712.7 716.9,705.6 721.5,703.0 726.0,712.3 730.6,715.7 735.2,729.3 739.8,715.2 744.3,713.8 748.9,711.8 753.5,700.6 758.1,695.1 762.6,697.1 767.2,695.5 771.8,696.8 776.4,685.1 780.9,691.8 785.5,692.3 790.1,683.1 794.7,680.9 799.2,685.1 803.8,665.4 808.4,664.2 812.9,664.2 817.5,663.4 822.1,667.6 826.7,669.2 831.2,665.4 835.8,672.1 840.4,666.7 845.0,664.2 849.5,669.2 854.1,661.7 858.7,663.7 863.3,660.6 867.8,649.7 872.4,648.7 877.0,654.2 881.6,676.8 886.1,680.1 890.7,678.1 895.3,678.1 899.8,678.1 904.4,674.6 909.0,674.6 913.6,669.2 918.1,675.6 922.7,689.3 927.3,689.3 931.9,697.1 936.4,699.8 941.0,706.5 945.6,712.3 950.2,718.5 954.7,728.0 959.3,730.2 963.9,717.2 968.5,721.3 973.0,722.3 977.6,710.5 982.2,711.0 986.7,714.7 991.3,717.2 995.9,724.8 1000.5,714.8 1005.0,696.1 1009.6,691.0 1014.2,695.5 1018.8,692.3 1023.3,696.0 1027.9,693.5 1032.5,684.8 1037.1,683.4 1041.6,687.3 1046.2,683.1 1050.8,686.8 1055.4,684.3 1059.9,694.6 1064.5,696.0 1069.1,690.5 1073.6,697.3 1078.2,697.6 1082.8,701.0 1087.4,706.5 1091.9,703.5 1096.5,715.2 1101.1,706.8 1105.7,709.3 1110.2,711.5 1114.8,706.3 1119.4,708.0 1124.0,708.5 1128.5,711.8 1133.1,718.8 1137.7,717.2 1142.3,694.6 1146.8,693.5 1151.4,685.1 1156.0,675.6 1160.5,677.3 1165.1,678.8 1169.7,686.3 1174.3,685.1 1178.8,688.8 1183.4,686.8 1188.0,686.8 1192.6,686.8 1197.1,674.6 1201.7,674.3 1206.3,672.1 1210.9,652.6 1215.4,653.7 1220.0,659.2 1224.6,665.1 1229.2,671.1 1233.7,668.4 1238.3,664.6 1242.9,664.6 1247.4,678.8 1252.0,668.7 1256.6,670.1 1261.2,667.6 1265.7,662.2 1270.3,671.4 1274.9,667.6 1279.5,657.6 1284.0,658.1 1288.6,657.6 1293.2,663.9 1297.8,670.1 1302.3,676.8 1306.9,672.6 1311.5,678.4 1316.1,682.9 1320.6,674.3 1325.2,683.4 1329.8,685.9 1334.3,695.1 1338.9,691.0 1343.5,690.1 1348.1,682.3 1352.6,688.4 1357.2,693.0 1361.8,693.5 1366.4,696.5 1370.9,696.8 1375.5,688.4 1380.1,684.6 1384.7,690.5 1389.2,673.8 1393.8,672.6 1398.4,682.6 1403.0,693.1 1407.5,700.5 1412.1,691.8" stroke="#ff0000" stroke-width="1" fill="none" stroke-linejoin="round"/>
<path d="M1477 740.2h6M1477 723.9h3M1477 707.5h6M1477 691.2h3M1477 674.9h6M1477 658.5h3M1477 642.2h6" stroke="#000" stroke-width="1.2"/>
<g font-family="'Liberation Sans',sans-serif" font-weight="bold" font-size="14px" fill="#000">
<text x="1486.5" y="647.4">80,00</text>
<text x="1486.5" y="680.1">60,00</text>
<text x="1486.5" y="712.7">40,00</text>
<text x="1486.5" y="745.4">20,00</text>
</g>
<g font-family="'Liberation Sans',sans-serif" font-weight="bold" font-size="14px" fill="#ff0000"><text x="2.5" y="621.6">RSI( 14 )</text><text x="72" y="621.6">: 49,59</text></g>
<use href="#ck" x="131.8" y="612.8"/>
<rect x="0" y="760" width="1536" height="2" fill="#d2d2d2"/>
<path d="M0 762.5H1476" stroke="#000" stroke-width="1"/>
<g font-family="'DejaVu Sans Condensed','DejaVu Sans',sans-serif" font-stretch="condensed" font-size="13px" fill="#000">
<text x="3.5" y="777.3">04-16:00</text>
<text x="95.0" y="777.3">13-12:00</text>
<text x="186.4" y="777.3">22-08:00</text>
<text x="277.9" y="777.3">01-16:00</text>
<text x="369.4" y="777.3">10-12:00</text>
<text x="460.9" y="777.3">19-08:00</text>
<text x="552.3" y="777.3">29-16:00</text>
<text x="643.8" y="777.3">08-12:00</text>
<text x="735.3" y="777.3">17-08:00</text>
<text x="826.8" y="777.3">27-16:00</text>
<text x="918.2" y="777.3">06-16:00</text>
<text x="1009.7" y="777.3">17-12:00</text>
<text x="1101.2" y="777.3">26-08:00</text>
<text x="1192.7" y="777.3">04-16:00</text>
<text x="1284.1" y="777.3">15-12:00</text>
<text x="1375.6" y="777.3">24-08:00</text>
<text x="1467.1" y="777.3">28-16:00</text>
</g>
<path d="M3.5 762V779M95.5 762V779M186.5 762V779M278.5 762V779M369.5 762V779M461.5 762V779M552.5 762V779M644.5 762V779M735.5 762V779M827.5 762V779M918.5 762V779M1010.5 762V779M1101.5 762V779M1193.5 762V779M1284.5 762V779M1376.5 762V779M1467.5 762V779" stroke="#000" stroke-width="1"/>
<g font-family="'Liberation Sans',sans-serif" font-weight="bold" font-size="14px" fill="#000">
<text x="1074" y="463.6">26.12.2025</text>
<text x="1153" y="463.6">16:00:00</text>
<text x="1074" y="477.6">XUSIN</text>
<text x="1074" y="491.6">Açılış</text>
<text x="1153" y="491.6">14134,15</text>
<text x="1074" y="505.6">Yüksek</text>
<text x="1153" y="505.6">14218,70</text>
<text x="1074" y="519.6">Düşük</text>
<text x="1153" y="519.6">14132,69</text>
<text x="1074" y="533.6">Kapanış</text>
<text x="1153" y="533.6">14192,74</text>
<text x="1074" y="547.6">O.Kap.Fark</text>
<text x="1153" y="547.6">58,50</text>
<text x="1074" y="561.6">Miktar</text>
<text x="1153" y="561.6">1137431254,00</text>
<text x="1074" y="575.6">Değer</text>
<text x="1153" y="575.6">14162,24</text>
</g>
<g font-family="'Liberation Sans',sans-serif" font-weight="bold" font-size="14px">
<text x="1268.5" y="443.6" fill="#0000ff">MOV( 144 )</text><text x="1346.5" y="443.6" fill="#0000ff">: 14.056,00</text>
<use href="#ck" x="1437.7" y="434.8"/>
<text x="1268.5" y="457.6" fill="#ff00ff">MOV( 89 )</text><text x="1346.5" y="457.6" fill="#ff00ff">: 14.010,88</text>
<use href="#ck" x="1437.7" y="448.8"/>
<text x="1268.5" y="471.6" fill="#ff8000">HLine</text><text x="1346.5" y="471.6" fill="#ff8000">: 15285,00</text>
<use href="#ck" x="1437.7" y="462.8"/>
<text x="1268.5" y="485.6" fill="#ff8000">HLine</text><text x="1346.5" y="485.6" fill="#ff8000">: 13330,00</text>
<use href="#ck" x="1437.7" y="476.8"/>
<text x="1268.5" y="499.6" fill="#ff8000">HLine</text><text x="1346.5" y="499.6" fill="#ff8000">: 14000,00</text>
<use href="#ck" x="1437.7" y="490.8"/>
<text x="1268.5" y="513.6" fill="#ff8000">HLine</text><text x="1346.5" y="513.6" fill="#ff8000">: 13050,00</text>
<use href="#ck" x="1437.7" y="504.8"/>
<text x="1268.5" y="527.6" fill="#ff8000">HLine</text><text x="1346.5" y="527.6" fill="#ff8000">: 14365,00</text>
<use href="#ck" x="1437.7" y="518.8"/>
<text x="1268.5" y="541.6" fill="#ff8000">HLine</text><text x="1346.5" y="541.6" fill="#ff8000">: 12800,00</text>
<use href="#ck" x="1437.7" y="532.8"/>
<text x="1268.5" y="555.6" fill="#ff8000">HLine</text><text x="1346.5" y="555.6" fill="#ff8000">: 13680,00</text>
<use href="#ck" x="1437.7" y="546.8"/>
<text x="1268.5" y="569.6" fill="#ff8000">HLine</text><text x="1346.5" y="569.6" fill="#ff8000">: 14715,00</text>
<use href="#ck" x="1437.7" y="560.8"/>
<text x="1268.5" y="583.6" fill="#ff8000">HLine</text><text x="1346.5" y="583.6" fill="#ff8000">: 15040,00</text>
<use href="#ck" x="1437.7" y="574.8"/>
</g>
<rect x="1461.5" y="15.5" width="13.5" height="9.0" rx="2.5" fill="#faecb4" stroke="#dcc474" stroke-width="0.9"/>
<text x="1468.2" y="22.3" font-family="'DejaVu Sans',sans-serif" font-size="7px" fill="#333" text-anchor="middle" letter-spacing="0.6">[]</text>
<rect x="1446.5" y="612.5" width="13.0" height="9.0" rx="2.5" fill="#faecb4" stroke="#dcc474" stroke-width="0.9"/>
<text x="1453.0" y="619.3" font-family="'DejaVu Sans',sans-serif" font-size="7px" fill="#333" text-anchor="middle" letter-spacing="0.6">[]</text>
<rect x="1462.0" y="612.5" width="13.0" height="9.0" rx="2.5" fill="#faecb4" stroke="#dcc474" stroke-width="0.9"/>
<text x="1468.5" y="619.3" font-family="'DejaVu Sans',sans-serif" font-size="7px" fill="#333" text-anchor="middle" letter-spacing="0.6">x</text>
<rect x="0" y="0" width="1026" height="14" fill="url(#gb)"/>
<rect x="1026" y="0" width="468" height="14" fill="url(#gg)"/>
<rect x="0" y="0" width="14" height="14" fill="#74304c"/><rect x="1" y="1" width="12" height="12" fill="url(#gc2)"/>
<path d="M4.6 4.9L9.2 9.5M9.2 4.9L4.6 9.5" stroke="#fff" stroke-width="1.6"/>
<text x="15.9" y="10" font-family="'DejaVu Sans',sans-serif" font-weight="bold" font-size="8.6px" fill="#fff" textLength="178.6" lengthAdjust="spacingAndGlyphs">XUSIN BIST SINAI - 4 Saatlik (.4h)</text>
<rect x="1027.8" y="1.9" width="11" height="10.9" fill="url(#gn)"/><g fill="#e8b41c" stroke="#7a5a00" stroke-width="0.5"><ellipse cx="1033.8" cy="3.4" rx="2.6" ry="1.3"/><ellipse cx="1032.6" cy="5.6" rx="2.6" ry="1.3"/><ellipse cx="1033.6" cy="7.8" rx="2.6" ry="1.3"/><ellipse cx="1034.4" cy="9.8" rx="2.6" ry="1.3"/><ellipse cx="1033.4" cy="11.8" rx="2.6" ry="1.3"/></g><path d="M1028 2.6h3.5" stroke="#fff" stroke-width="1"/><path d="M1029 3.5l2.2 1.6" stroke="#1a4a1a" stroke-width="1.4"/>
<rect x="1042" y="2" width="10.4" height="10.6" fill="url(#gr)"/><g fill="#e0a818" stroke="#7a5a00" stroke-width="0.5"><ellipse cx="1047.8" cy="4" rx="2.4" ry="1.3"/><ellipse cx="1046.6" cy="6" rx="2.6" ry="1.3"/><ellipse cx="1047" cy="8" rx="2.6" ry="1.3"/><ellipse cx="1047.6" cy="10" rx="2.6" ry="1.3"/><ellipse cx="1046.6" cy="11.6" rx="2.4" ry="1.1"/></g><path d="M1050.6 7.6l1.6 4.6h-3.2z" fill="#f00000"/>
<path d="M1059.9 10.9V3.9H1066.9M1066.4 7Q1066.6 10.2 1063.2 10.4" stroke="#2c2c34" stroke-width="1.6" fill="none"/>
<text x="1071" y="9.3" font-family="'DejaVu Sans',sans-serif" font-size="4.5px" fill="#9a9a9a">Forinvest</text>
<rect x="1098.5" y="2" width="9.5" height="10" fill="#c8d8f4" stroke="#8aa4d8" stroke-width="0.8"/><path d="M1100 4h1.6M1103 3.6h4M1103.5 7h3.5M1104 10h3" stroke="#3860d0" stroke-width="1.2" opacity="0.8"/><circle cx="1100.8" cy="7" r="1" fill="#e03020"/><circle cx="1100.8" cy="10" r="1" fill="#e0c020"/>
<rect x="1113" y="1" width="10" height="5.6" fill="url(#gh)"/><rect x="1111" y="7" width="10.8" height="5.4" fill="url(#gh)"/><rect x="1112" y="9" width="8.8" height="2.8" fill="#f4f8ff"/><rect x="1113" y="1.5" width="10" height="5.5" fill="none" stroke="none" stroke-width="1.2"/><path d="M1114 5.5l2-1.5 2 1 2-2.5 2 1.5" stroke="#e01010" stroke-width="1" fill="none"/><path d="M1112.5 10.5l2-1 2 1 2-1 2 1" stroke="#10a030" stroke-width="1" fill="none"/>
<path d="M1126.8 11.6L1135.6 2.8" stroke="#18982c" stroke-width="3.8"/><path d="M1135.2 3.2l1.3-1.3" stroke="#e86060" stroke-width="3.8"/><path d="M1125.3 13l1.8-0.4-1.2-1.4z" fill="#402000" stroke="#e08040" stroke-width="0.8"/>
<path d="M1144.5 1L1150 6.5 1144.5 12 1139 6.5Z" fill="#3c78e0"/><circle cx="1144.5" cy="6.5" r="2" fill="#f4f4f4"/><path d="M1141.6 3.6l5.8 5.8M1147.4 3.6l-5.8 5.8" stroke="#d8e4fa" stroke-width="0.9"/>
<path d="M1153 7.5h3.5l1.6-4 2.4 8 1.7-5.5 1 1.5 1-1.5" stroke="#8ab0e4" stroke-width="1" fill="none" opacity="0.9"/>
<g font-family="'DejaVu Sans',sans-serif" font-size="8px" fill="#111" text-anchor="middle"><text x="1196" y="10">4 Saatlik</text><text x="1256" y="10">MUM</text><text x="1316" y="10">TL</text><text x="1375.5" y="10">LIN</text><text x="1436" y="10">IND</text></g>
<path d="M1470.5 10.5L1476 5" stroke="#2a6ae0" stroke-width="2.4"/><path d="M1473 3.5h4.5v4.5z" fill="#2a6ae0"/>
<path d="M1482 12L1491 2.5" stroke="#f4f4f4" stroke-width="2.2"/><path d="M1482.5 2.5L1488 8" stroke="#f0f0f0" stroke-width="1.6"/><path d="M1488 8L1492.5 12.5" stroke="#e03010" stroke-width="2.4"/>
<rect x="1494" y="0" width="14" height="14" fill="url(#gw)"/><rect x="1508" y="0" width="14" height="14" fill="url(#gw)"/><rect x="1522" y="0" width="14" height="14" fill="url(#gc)"/>
<path d="M1494.5 0V14M1507.5 0V14M1521.5 0V14" stroke="#4848a0" stroke-width="1" opacity="0.7"/>
<path d="M1522.5 0V14M1535.5 0V14" stroke="#6a2038" stroke-width="1" opacity="0.6"/>
<rect x="1498.8" y="7.6" width="4.4" height="2.3" rx="0.5" fill="#fff"/>
<rect x="1512.6" y="4.6" width="3.6" height="3.6" rx="1" fill="none" stroke="#fff" stroke-width="1.1"/><rect x="1514.6" y="6.2" width="3.6" height="3.6" rx="1" fill="#4848a8" stroke="#fff" stroke-width="1.1"/>
<path d="M1526.6 4.8L1531 9.2M1531 4.8L1526.6 9.2" stroke="#fff" stroke-width="1.9"/>
</svg>
</body></html>
